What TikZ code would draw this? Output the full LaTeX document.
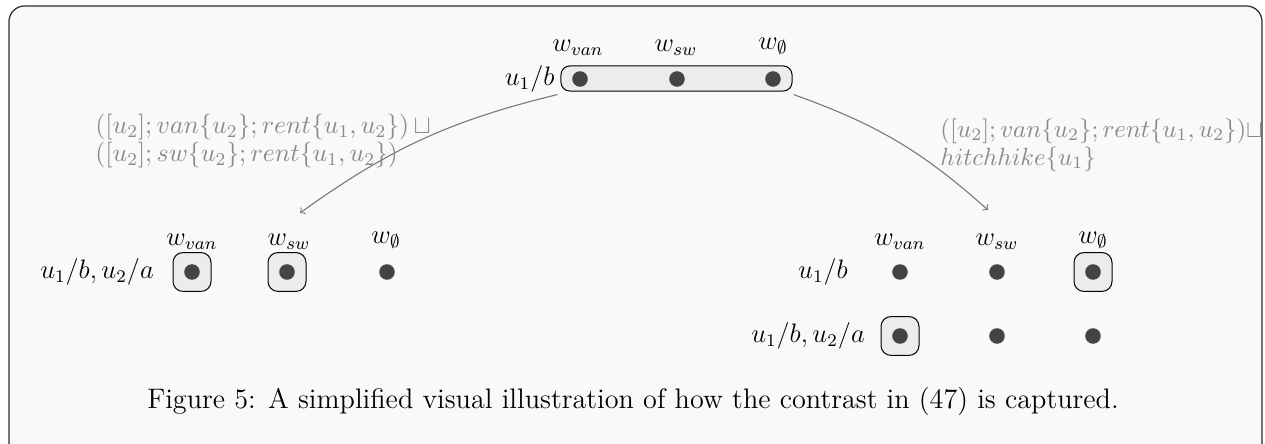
\RequirePackage{fix-cm}
\documentclass[tikz,border=0pt]{standalone}
\usetikzlibrary{positioning}
\definecolor{framefill}{HTML}{F9F9F9}
\definecolor{frameline}{HTML}{2B2B2B}
\definecolor{cellfill}{HTML}{ECECEC}
\definecolor{dotgray}{HTML}{444444}
\definecolor{muted}{HTML}{8A8A8A}
\definecolor{arrowgray}{HTML}{7A7A7A}
\tikzset{
  frame/.style={rounded corners=7pt, draw=frameline, line width=0.55pt, fill=framefill},
  world/.style={circle, fill=dotgray, inner sep=0pt, minimum size=7pt},
  cell/.style={rounded corners=4.5pt, draw=black, line width=0.45pt, fill=cellfill,
    minimum width=17.1pt, minimum height=17.5pt, inner sep=0pt},
  longcell/.style={cell, rounded corners=4pt, minimum width=104pt, minimum height=11.3pt},
  colname/.style={inner sep=1pt, font=\fontsize{12}{14}\selectfont},
  rowname/.style={inner sep=1pt, font=\fontsize{12}{14}\selectfont},
  update/.style={text=muted, align=left, inner sep=0pt, font=\fontsize{11.6}{12.6}\selectfont},
  arrow/.style={->, draw=arrowgray, line width=0.5pt}
}
\begin{document}
\begin{tikzpicture}[x=0.45pt,y=0.45pt]
  \useasboundingbox (0,0) rectangle (1265,444);
  \clip (0,0) rectangle (1265,444);
  \draw[frame] (9,438) rectangle (1262,-30);

  % Top: the input state.
  \node[longcell] (topsel) at (676.5,365.5) {};
  \node[world] (tvan) at (580,365) {};
  \node[world] (tsw) at (677,365) {};
  \node[world] (tnil) at (773,365) {};
  \node[rowname, left=1.5pt of topsel] (trow) {$u_1/b$};
  \node[colname] (tcvan) at (578,396) {$w_{van}$};
  \node[colname] (tcsw) at (676,396) {$w_{sw}$};
  \node[colname] (tcnil) at (773,398) {$w_{\emptyset}$};

  % Updates along the two arrows.
  \coordinate (lefttip) at (300,231);
  \coordinate (righttip) at (988,234);
  \path (topsel.south west) ++(-3,-3) coordinate (leftfoot);
  \path (topsel.south east) ++(1,-3) coordinate (rightfoot);
  \draw[arrow] (leftfoot) to[bend right=11] (lefttip);
  \draw[arrow] (rightfoot) to[bend left=11] (righttip);
  \node[update, anchor=west] (lupd) at (95,303)
    {$([u_2]; van\{u_2\}; rent\{u_1,u_2\})\,{\sqcup}$\\$([u_2]; sw\{u_2\}; rent\{u_1,u_2\})$};
  \node[update, anchor=west, font=\fontsize{11.2}{12.6}\selectfont] (rupd) at (940,299)
    {$([u_2]; van\{u_2\}; rent\{u_1,u_2\}){\sqcup}$\\$hitchhike\{u_1\}$};

  % Bottom left: one output state.
  \node[cell] (lsvan) at (192,172) {};
  \node[cell] (lssw) at (287,172) {};
  \node[world] (lvan) at (192,172) {};
  \node[world] (lsw) at (287,172) {};
  \node[world] (lnil) at (387,172) {};
  \node[rowname] (lrow) at (97,172) {$u_1/b, u_2/a$};
  \node[colname] (lcvan) at (192,202) {$w_{van}$};
  \node[colname] (lcsw) at (289,202) {$w_{sw}$};
  \node[colname] (lcnil) at (386,204) {$w_{\emptyset}$};

  % Bottom right: two rows.
  \node[cell] (rsnil) at (1093,172) {};
  \node[cell] (rsvan) at (900,108) {};
  \foreach \r/\y in {a/172,b/108} {
    \node[world] (r\r van) at (900,\y) {};
    \node[world] (r\r sw) at (997,\y) {};
    \node[world] (r\r nil) at (1093,\y) {};
  }
  \node[rowname] (rrowa) at (823,172) {$u_1/b$};
  \node[rowname] (rrowb) at (808,108) {$u_1/b, u_2/a$};
  \node[colname] (rcvan) at (900,202) {$w_{van}$};
  \node[colname] (rcsw) at (997,202) {$w_{sw}$};
  \node[colname] (rcnil) at (1093,204) {$w_{\emptyset}$};

  \node[font=\fontsize{12.7}{15}\selectfont] (caption) at (633,43)
    {Figure 5: A simplified visual illustration of how the contrast in (47) is captured.};
\end{tikzpicture}
\end{document}
